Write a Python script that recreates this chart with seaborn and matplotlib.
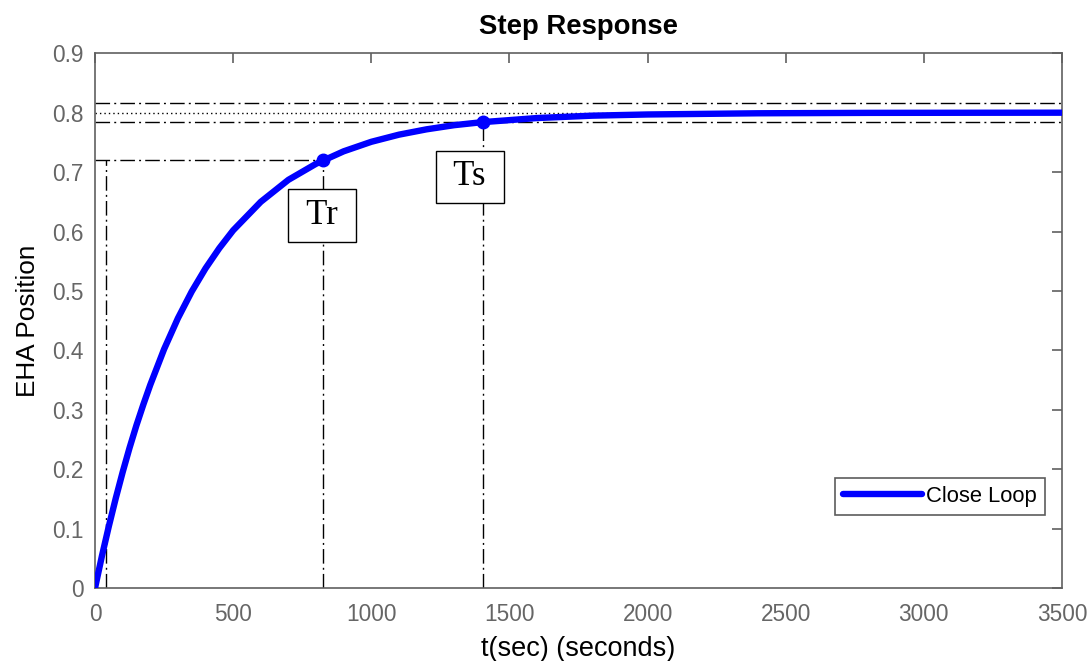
import numpy as np
import pandas as pd
import matplotlib
matplotlib.use("Agg")
import matplotlib.pyplot as plt
import seaborn as sns

# step response
time_s = [0, 25, 50, 75, 100, 125, 150, 175, 200, 250, 300, 350, 400, 450, 500,
          600, 700, 800, 900, 1000, 1100, 1200, 1300, 1400, 1600, 1800, 2000,
          2400, 2800, 3200, 3500]
position = [0.0, 0.054, 0.104, 0.151, 0.195, 0.236, 0.274, 0.309, 0.342, 0.402,
            0.454, 0.499, 0.538, 0.572, 0.602, 0.650, 0.687, 0.714, 0.735,
            0.751, 0.763, 0.772, 0.779, 0.784, 0.791, 0.795, 0.797, 0.799,
            0.7997, 0.7999, 0.800]

final_value = 0.8
band_upper = 0.816
band_lower = 0.784
t10 = 40
tr_time, tr_value = 825, 0.72
ts_time, ts_value = 1404, 0.784
tr_label_pos = (822, 0.627)
ts_label_pos = (1357, 0.692)

df = pd.DataFrame({"t": time_s, "y": position})

sns.set_style("white")
plt.rcParams["font.family"] = ["Liberation Sans", "DejaVu Sans"]

fig = plt.figure(figsize=(10.91, 6.61), dpi=100)
ax = fig.add_axes([0.0871, 0.1104, 0.8863, 0.809])

dd = (0, (10.5, 3, 1.4, 3))
kw = dict(color="black", lw=1.0, linestyle=dd, zorder=2)
ax.axhline(band_upper, **kw)
ax.axhline(band_lower, **kw)
ax.axhline(final_value, color="black", lw=1.0, linestyle=(0, (1, 2.2)), zorder=2)
ax.plot([0, tr_time], [tr_value, tr_value], **kw)
ax.plot([t10, t10], [0, tr_value], **kw)
ax.plot([tr_time, tr_time], [0, tr_value], **kw)
ax.plot([ts_time, ts_time], [0, ts_value], **kw)

sns.lineplot(data=df, x="t", y="y", ax=ax, color="#0000FF", lw=4.6,
             label="Close Loop", zorder=3)
ax.plot([tr_time, ts_time], [tr_value, ts_value], "o", color="#0000FF",
        ms=9, zorder=4)

box = dict(boxstyle="square,pad=0.28", fc="white", ec="black", lw=1.0)
ax.text(*tr_label_pos, " Tr ", family=["Liberation Serif"], fontsize=25,
        color="black", ha="center", va="center", bbox=box, zorder=5)
ax.text(*ts_label_pos, " Ts ", family=["Liberation Serif"], fontsize=25,
        color="black", ha="center", va="center", bbox=box, zorder=5)

ax.set_xlim(0, 3500)
ax.set_ylim(0, 0.9)
ax.set_xticks(np.arange(0, 3501, 500))
ax.set_yticks(np.round(np.arange(0, 0.91, 0.1), 1))
ax.set_yticklabels(["0", "0.1", "0.2", "0.3", "0.4", "0.5", "0.6", "0.7", "0.8", "0.9"])

grey = "#606060"
for s in ax.spines.values():
    s.set_color(grey)
    s.set_linewidth(1.2)
ax.tick_params(direction="in", length=7, width=1.2, color=grey,
               labelcolor="#666666", labelsize=16.3, top=True, right=True)
ax.tick_params(axis="x", pad=11)
ax.tick_params(axis="y", pad=8)

ax.set_xlabel("t(sec) (seconds)", fontsize=19.5, color="black", labelpad=7)
ax.set_ylabel("EHA Position", fontsize=18.8, color="black", labelpad=9)
ax.set_title("Step Response", fontsize=19.8, fontweight="bold", color="black", pad=14)

leg = ax.legend(loc="lower right", bbox_to_anchor=(0.982, 0.137), fontsize=15.8,
                frameon=True, fancybox=False, handlelength=3.6, borderpad=0.35,
                handletextpad=0.2, borderaxespad=0)
leg.get_frame().set_edgecolor("#333333")
leg.get_frame().set_linewidth(1.2)
for txt in leg.get_texts():
    txt.set_color("black")

fig.savefig("out.png", dpi=100)
